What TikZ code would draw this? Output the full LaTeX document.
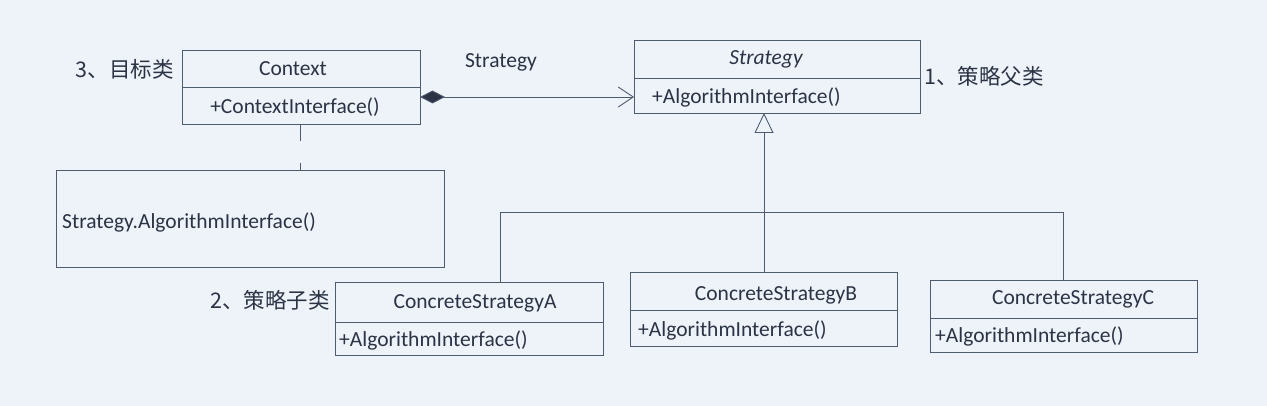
\documentclass[tikz,border=0pt]{standalone}
\usepackage{fontspec}
\setmainfont{Carlito}
\newfontfamily\cjk{Noto Sans CJK SC}
\usetikzlibrary{arrows.meta,positioning}
\definecolor{bg}{HTML}{EDF3F9}
\definecolor{ln}{HTML}{4F5B6E}
\definecolor{tx}{HTML}{2C3344}
\tikzset{
  cbox/.style={draw=ln,line width=0.9pt,minimum width=#1,inner sep=0pt,outer sep=0pt},
  lbl/.style={text=tx,font=\fontsize{21.5}{24}\selectfont,inner sep=0pt},
  cn/.style={text=tx,font=\fontsize{21.5}{24}\selectfont\cjk,inner sep=0pt},
  conn/.style={draw=ln,line width=0.9pt},
}
\begin{document}
\begin{tikzpicture}[x=1pt,y=-1pt]
\fill[bg] (0,0) rectangle (1267,406);
\useasboundingbox (0,0) rectangle (1267,406);
% Context
\node[cbox=238pt,minimum height=37pt] (ctxN) at (301,68.5) {};
\node[cbox=238pt,minimum height=37pt] (ctxM) at (301,105.5) {};
\node[lbl] (ctxT) at (293,69) {Context};
\node[lbl] (ctxF) at (295,107) {+ContextInterface()};
\node[cn,anchor=east] (l3) at (174,69) {3、目标类};
% Strategy
\node[cbox=286pt,minimum height=38pt] (strN) at (777,59) {};
\node[cbox=286pt,minimum height=35pt] (strM) at (777,95.5) {};
\node[lbl,font=\fontsize{21.5}{24}\selectfont\itshape] (strT) at (766,59) {Strategy};
\node[lbl,anchor=west] (strF) at (652,97) {+AlgorithmInterface()};
\node[cn,anchor=west] (l1) at (924,76) {1、策略父类};
% association label
\node[lbl] (assoc) at (501,62) {Strategy};
% note
\node[cbox=388pt,minimum height=97pt] (note) at (250,218.5) {};
\node[lbl,anchor=west] (noteT) at (62,222) {Strategy.AlgorithmInterface()};
% concrete A
\node[cbox=268pt,minimum height=40pt] (aN) at (469,302) {};
\node[cbox=268pt,minimum height=33pt] (aM) at (469,338.5) {};
\node[lbl] (aT) at (475,303) {ConcreteStrategyA};
\node[lbl,anchor=west] (aF) at (339,340) {+AlgorithmInterface()};
\node[cn,anchor=east] (l2) at (330,300) {2、策略子类};
% concrete B
\node[cbox=267pt,minimum height=38pt] (bN) at (763.5,291) {};
\node[cbox=267pt,minimum height=36pt] (bM) at (763.5,328) {};
\node[lbl] (bT) at (776,295) {ConcreteStrategyB};
\node[lbl,anchor=west] (bF) at (638,330) {+AlgorithmInterface()};
% concrete C
\node[cbox=267pt,minimum height=38pt] (cN) at (1063.5,299) {};
\node[cbox=267pt,minimum height=34pt] (cM) at (1063.5,335) {};
\node[lbl] (cT) at (1073,299) {ConcreteStrategyC};
\node[lbl,anchor=west] (cF) at (935,336) {+AlgorithmInterface()};
% composition
\draw[conn,{Diamond[length=25pt,width=13pt,fill=tx]}-{Straight Barb[length=15pt,width=20pt,line width=0.9pt]}]
  (ctxM.east |- 0,97) -- (strM.west |- 0,97);
% note link
\draw[conn,dash pattern=on 17pt off 22pt] (ctxM.south -| 300,0) -- (note.north -| 300,0);
% inheritance
\coordinate (jB) at (764,212);
\coordinate (jA) at (500,212);
\coordinate (jC) at (1063,212);
\draw[conn,-{Triangle[open,length=20pt,width=19pt,fill=bg]}] (jB) -- (strM.south -| jB);
\draw[conn] (jA) -- (jC);
\draw[conn] (jA) -- (aN.north -| jA);
\draw[conn] (jB) -- (bN.north -| jB);
\draw[conn] (jC) -- (cN.north -| jC);
\end{tikzpicture}
\end{document}
